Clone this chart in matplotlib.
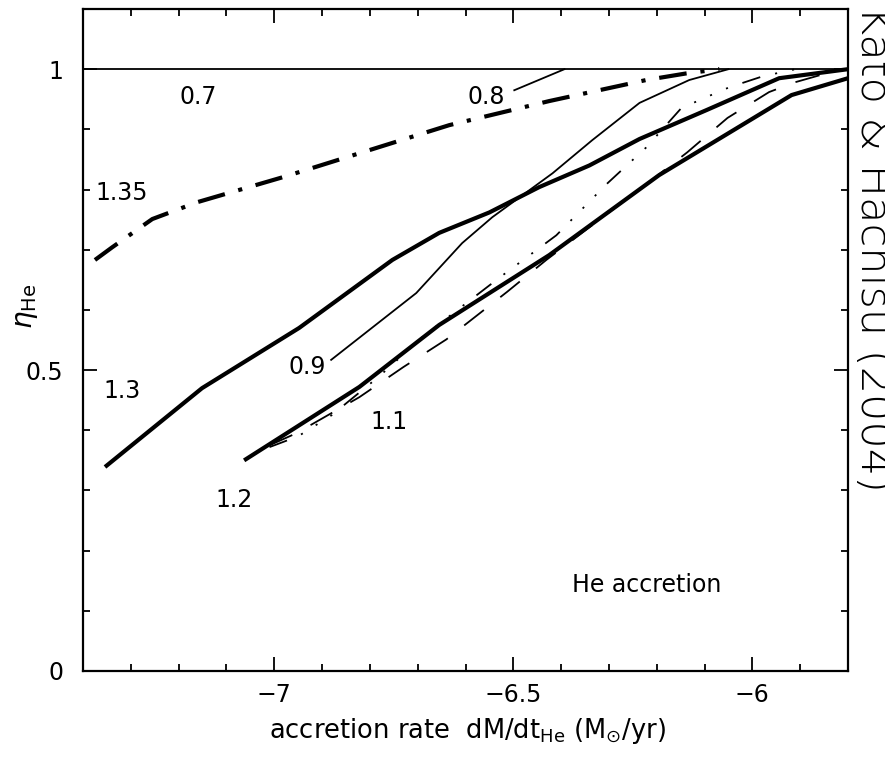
import matplotlib
matplotlib.use('Agg')
from matplotlib import pyplot as plt
from matplotlib.ticker import MultipleLocator

# eta_He vs log accretion rate, one curve per WD mass (Msun)
m07_x = [-7.4, -5.8]
m07_y = [1.0, 1.0]
m08_x = [-6.498, -6.393]
m08_y = [0.965, 1.0]
m09_x = [-6.881, -6.703, -6.607, -6.544, -6.418, -6.335, -6.236, -6.132, -6.05]
m09_y = [0.517, 0.628, 0.711, 0.754, 0.827, 0.882, 0.944, 0.982, 1.0]
m10_x = [-7.01, -6.95, -6.88, -6.78, -6.69, -6.62, -6.53, -6.41, -6.305, -6.222,
         -6.149, -6.098, -6.048, -5.979, -5.91]
m10_y = [0.372, 0.39, 0.425, 0.49, 0.555, 0.598, 0.653, 0.724, 0.809, 0.870,
         0.935, 0.953, 0.970, 0.988, 1.0]
m11_x = [-7.01, -6.954, -6.822, -6.73, -6.64, -6.513, -6.431, -6.22, -6.136,
         -6.052, -5.965, -5.912, -5.85, -5.8]
m11_y = [0.375, 0.395, 0.455, 0.505, 0.551, 0.630, 0.683, 0.810, 0.862,
         0.919, 0.962, 0.978, 0.992, 1.0]
m12_x = [-7.063, -6.822, -6.655, -6.425, -6.195, -5.918, -5.80]
m12_y = [0.350, 0.472, 0.575, 0.691, 0.824, 0.957, 0.985]
m13_x = [-7.354, -7.151, -6.948, -6.753, -6.655, -6.550, -6.446, -6.341, -6.236,
         -6.096, -5.944, -5.80]
m13_y = [0.339, 0.470, 0.570, 0.683, 0.728, 0.762, 0.804, 0.840, 0.884,
         0.932, 0.985, 1.0]
m135_x = [-7.375, -7.339, -7.255, -7.161, -6.98, -6.634, -6.425, -6.222, -6.138, -6.069]
m135_y = [0.683, 0.704, 0.751, 0.779, 0.821, 0.907, 0.947, 0.982, 0.993, 1.0]

label_txt = ['0.7', '0.8', '0.9', '1.1', '1.2', '1.3', '1.35']
label_x = [-7.159, -6.556, -6.931, -6.759, -7.084, -7.318, -7.32]
label_y = [0.954, 0.954, 0.505, 0.414, 0.284, 0.465, 0.794]

plt.rcParams['lines.scale_dashes'] = False
plt.rcParams['font.family'] = ['DejaVu Sans']

fig = plt.figure(figsize=(8.85, 7.71), dpi=100)
ax = fig.add_axes([83/885, 1 - 671/771, (848-83)/885, (671-9)/771])

thin = 1.3
thick = 3.0
ax.plot(m07_x, m07_y, color='black', lw=thin)
ax.plot(m08_x, m08_y, color='black', lw=thin)
ax.plot(m09_x, m09_y, color='black', lw=thin)
ax.plot(m10_x, m10_y, color='black', lw=thin, dash_capstyle='butt',
        dashes=(13.5, 11, 1.5, 11, 1.5, 11, 1.5, 11))
ax.plot(m11_x, m11_y, color='black', lw=thin, dash_capstyle='butt', dashes=(18, 15))
ax.plot(m12_x, m12_y, color='black', lw=thick, solid_capstyle='butt')
ax.plot(m13_x, m13_y, color='black', lw=thick, solid_capstyle='butt')
ax.plot(m135_x, m135_y, color='black', lw=thick, dash_capstyle='butt',
        dashes=(20, 10, 3, 10))

for t, x, y in zip(label_txt, label_x, label_y):
    ax.text(x, y, t, fontsize=17, ha='center', va='center')
ax.text(-6.222, 0.143, 'He accretion', fontsize=17, ha='center', va='center')

ax.set_xlim(-7.4, -5.8)
ax.set_ylim(0, 1.1)
ax.xaxis.set_minor_locator(MultipleLocator(0.1))
ax.yaxis.set_minor_locator(MultipleLocator(0.1))
ax.set_xticks([-7, -6.5, -6])
ax.set_xticklabels(['\u22127', '\u22126.5', '\u22126'])
ax.set_yticks([0, 0.5, 1])
ax.set_yticklabels(['0', '0.5', '1'])
ax.tick_params(which='both', direction='in', top=True, right=True, width=1.3, labelsize=17)
ax.tick_params(which='major', length=10)
ax.tick_params(which='minor', length=5)
ax.tick_params(axis='x', pad=9)
ax.tick_params(axis='y', pad=14)
for s in ax.spines.values():
    s.set_linewidth(1.6)

ax.set_xlabel(r'accretion rate  dM/dt$_{\rm He}$ (M$_{\odot}$/yr)', fontsize=18.5)
ax.xaxis.set_label_coords(0.503, -0.068)
ax.set_ylabel(r'$\eta_{\rm He}$', fontsize=20)
ax.yaxis.set_label_coords(-0.056, 0.55)

fig.text(853/885, 1 - 6/771, 'Kato & Hachisu (2004)', rotation=-90, ha='left', va='top',
         fontsize=31, fontweight='light')

fig.savefig('out.png', dpi=100)
